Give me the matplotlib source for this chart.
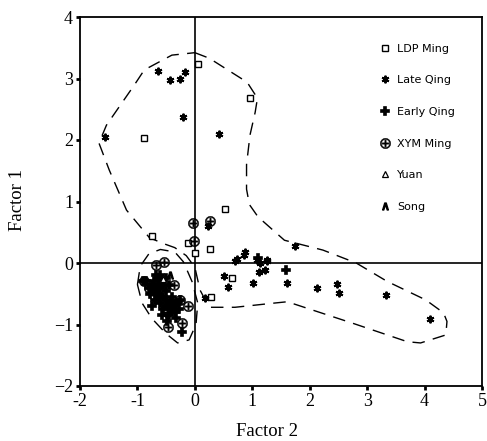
import numpy as np
import matplotlib
matplotlib.use("Agg")
from matplotlib import pyplot as plt

# ---- data ----
ldp_x = [0.06, 0.96, -0.88, 0.53, -0.74, 0.26, 0.0, -0.12, 0.65, 0.28]
ldp_y = [3.24, 2.68, 2.03, 0.88, 0.44, 0.23, 0.16, 0.33, -0.24, -0.56]

late_x = [-0.65, -0.44, -0.26, -0.18, -0.21, -1.56, 0.42, 0.23, 0.88, 0.74, 0.70,
          1.09, 1.14, 1.26, 1.12, 1.23, 0.51, 0.58, 1.02, 1.74, 1.26, 1.60,
          2.12, 2.47, 2.51, 3.33, 4.09, 0.18, 0.86]
late_y = [3.12, 2.98, 2.99, 3.11, 2.37, 2.05, 2.10, 0.60, 0.18, 0.06, 0.03,
          0.05, 0.00, 0.05, -0.15, -0.11, -0.21, -0.39, -0.33, 0.28, 0.03, -0.33,
          -0.41, -0.34, -0.49, -0.52, -0.91, -0.57, 0.13]

early_x = [-0.85, -0.80, -0.75, -0.70, -0.65, -0.60, -0.55, -0.50, -0.60, -0.70,
           -0.45, -0.40, -0.35, -0.55, -0.65, -0.75, -0.50, -0.30, -0.25, -0.23,
           -0.50, -0.45, -0.90, -0.62, -0.40, -0.58, -0.32, -0.68, -0.48, 1.10, 1.58,
           -0.78, -0.55, -0.42, -0.62, -0.50, -0.35, -0.72, -0.60, -0.28, -0.45]
early_y = [-0.30, -0.40, -0.35, -0.45, -0.50, -0.40, -0.55, -0.60, -0.65, -0.60,
           -0.70, -0.75, -0.80, -0.75, -0.35, -0.70, -0.45, -0.65, -0.60, -1.12,
           -0.25, -0.35, -0.30, -0.28, -0.55, -0.85, -0.90, -0.20, -0.95, 0.08, -0.11,
           -0.50, -0.35, -0.62, -0.55, -0.70, -0.68, -0.30, -0.20, -0.75, -0.85]

xym_x = [-0.67, -0.53, -0.88, -0.37, -0.26, -0.12, -0.23, -0.46, -0.40, -0.04,
         0.26, -0.02, -0.80, -0.60, -0.72, -0.48]
xym_y = [-0.03, 0.02, -0.29, -0.36, -0.60, -0.70, -0.98, -1.04, -0.65, 0.65,
         0.68, 0.36, -0.40, -0.30, -0.52, -0.80]

yuan_x = [-0.56]
yuan_y = [-0.26]

song_x = [-0.44]
song_y = [-0.20]

# group outlines (dashed)
hullA_x = [0.0, 0.25, 0.91, 1.09, 1.05, 0.96, 0.90, 0.90, 0.95, 1.10, 1.56, 2.23,
           2.81, 3.35, 4.02, 4.33, 4.39, 4.37, 3.93, 3.70, 2.75, 1.61, 1.40, 0.70,
           0.25, 0.09, 0.0, -0.15, -0.35, -0.53, -0.79, -1.19, -1.49, -1.67, -1.54,
           -1.05, -0.88, -0.40, 0.0]
hullA_y = [3.42, 3.33, 2.94, 2.68, 2.45, 2.08, 1.60, 1.20, 0.95, 0.75, 0.37, 0.21,
           0.0, -0.30, -0.60, -0.81, -0.95, -1.17, -1.30, -1.28, -0.98, -0.63, -0.65, -0.72,
           -0.72, -0.44, -0.07, 0.12, 0.25, 0.31, 0.41, 0.86, 1.51, 1.95, 2.24,
           2.90, 3.14, 3.38, 3.42]

hullB_x = [-1.00, -0.95, -0.80, -0.60, -0.35, -0.20, -0.05, 0.05, 0.02, -0.10,
           -0.30, -0.50, -0.75, -0.92, -1.00]
hullB_y = [-0.35, -0.05, 0.15, 0.22, 0.18, 0.02, -0.30, -0.65, -1.00, -1.25,
           -1.30, -1.15, -0.90, -0.65, -0.35]

x_ticks = [-2, -1, 0, 1, 2, 3, 4, 5]
y_ticks = [-2, -1, 0, 1, 2, 3, 4]

# ---- figure ----
fig = plt.figure(figsize=(4.87, 4.41), dpi=100)
ax = fig.add_axes([80 / 487, 1 - 386 / 441, 402 / 487, 369 / 441])

ax.axhline(0, color='black', lw=1.2, zorder=1)
ax.axvline(0, color='black', lw=1.2, zorder=1)

dash = (0, (9, 6))
ax.plot(hullA_x, hullA_y, color='black', lw=1.0, linestyle=dash, zorder=2)
ax.plot(hullB_x, hullB_y, color='black', lw=1.0, linestyle=dash, zorder=2)

h1, = ax.plot(ldp_x, ldp_y, linestyle='none', marker='s', ms=4, mfc='white',
              mec='black', mew=1.0, label='LDP Ming', zorder=4)
h2, = ax.plot(late_x, late_y, linestyle='none', marker=(6, 2, 0), ms=5.5,
              mec='black', mew=1.4, label='Late Qing', zorder=4)
h3, = ax.plot(early_x, early_y, linestyle='none', marker='P', ms=5.5, mfc='black',
              mec='black', mew=1.2, label='Early Qing', zorder=4)
h4, = ax.plot(xym_x, xym_y, linestyle='none', marker=r'$\oplus$', ms=7.5,
              color='black', mew=0.3, label='XYM Ming', zorder=5)
h5, = ax.plot(yuan_x, yuan_y, linestyle='none', marker='^', ms=4.5, mfc='white',
              mec='black', mew=0.9, label='Yuan', zorder=5)
h6, = ax.plot(song_x, song_y, linestyle='none', marker=r'$\wedge$', ms=5,
              color='black', label='Song', zorder=5)

ax.set_xlim(-2, 5)
ax.set_ylim(-2, 4)
ax.set_xticks(x_ticks)
ax.set_yticks(y_ticks)
ax.set_xticklabels([str(t) for t in x_ticks])
ax.set_yticklabels([str(t).replace('-', '\u2212') for t in y_ticks])
ax.tick_params(direction='out', length=3, width=2, labelsize=13, pad=2)
for lab in ax.get_xticklabels() + ax.get_yticklabels():
    lab.set_family('Liberation Serif')
for sp in ax.spines.values():
    sp.set_linewidth(1.3)

fig.text(267 / 487, 1 - 432 / 441, 'Factor 2', family='Liberation Serif',
         fontsize=13.5, ha='center', va='center')
fig.text(18 / 487, 1 - 200 / 441, 'Factor 1', family='Liberation Serif',
         fontsize=13.5, ha='center', va='center', rotation=90)

leg = ax.legend(handles=[h1, h2, h3, h4, h5, h6], loc='upper left',
                bbox_to_anchor=(374 / 487, 1 - 38 / 441), bbox_transform=fig.transFigure,
                frameon=False, handlelength=1.0, handletextpad=0.6, borderpad=0,
                labelspacing=1.95, prop={'family': 'DejaVu Sans', 'size': 8})

fig.savefig('out.png', dpi=100)
